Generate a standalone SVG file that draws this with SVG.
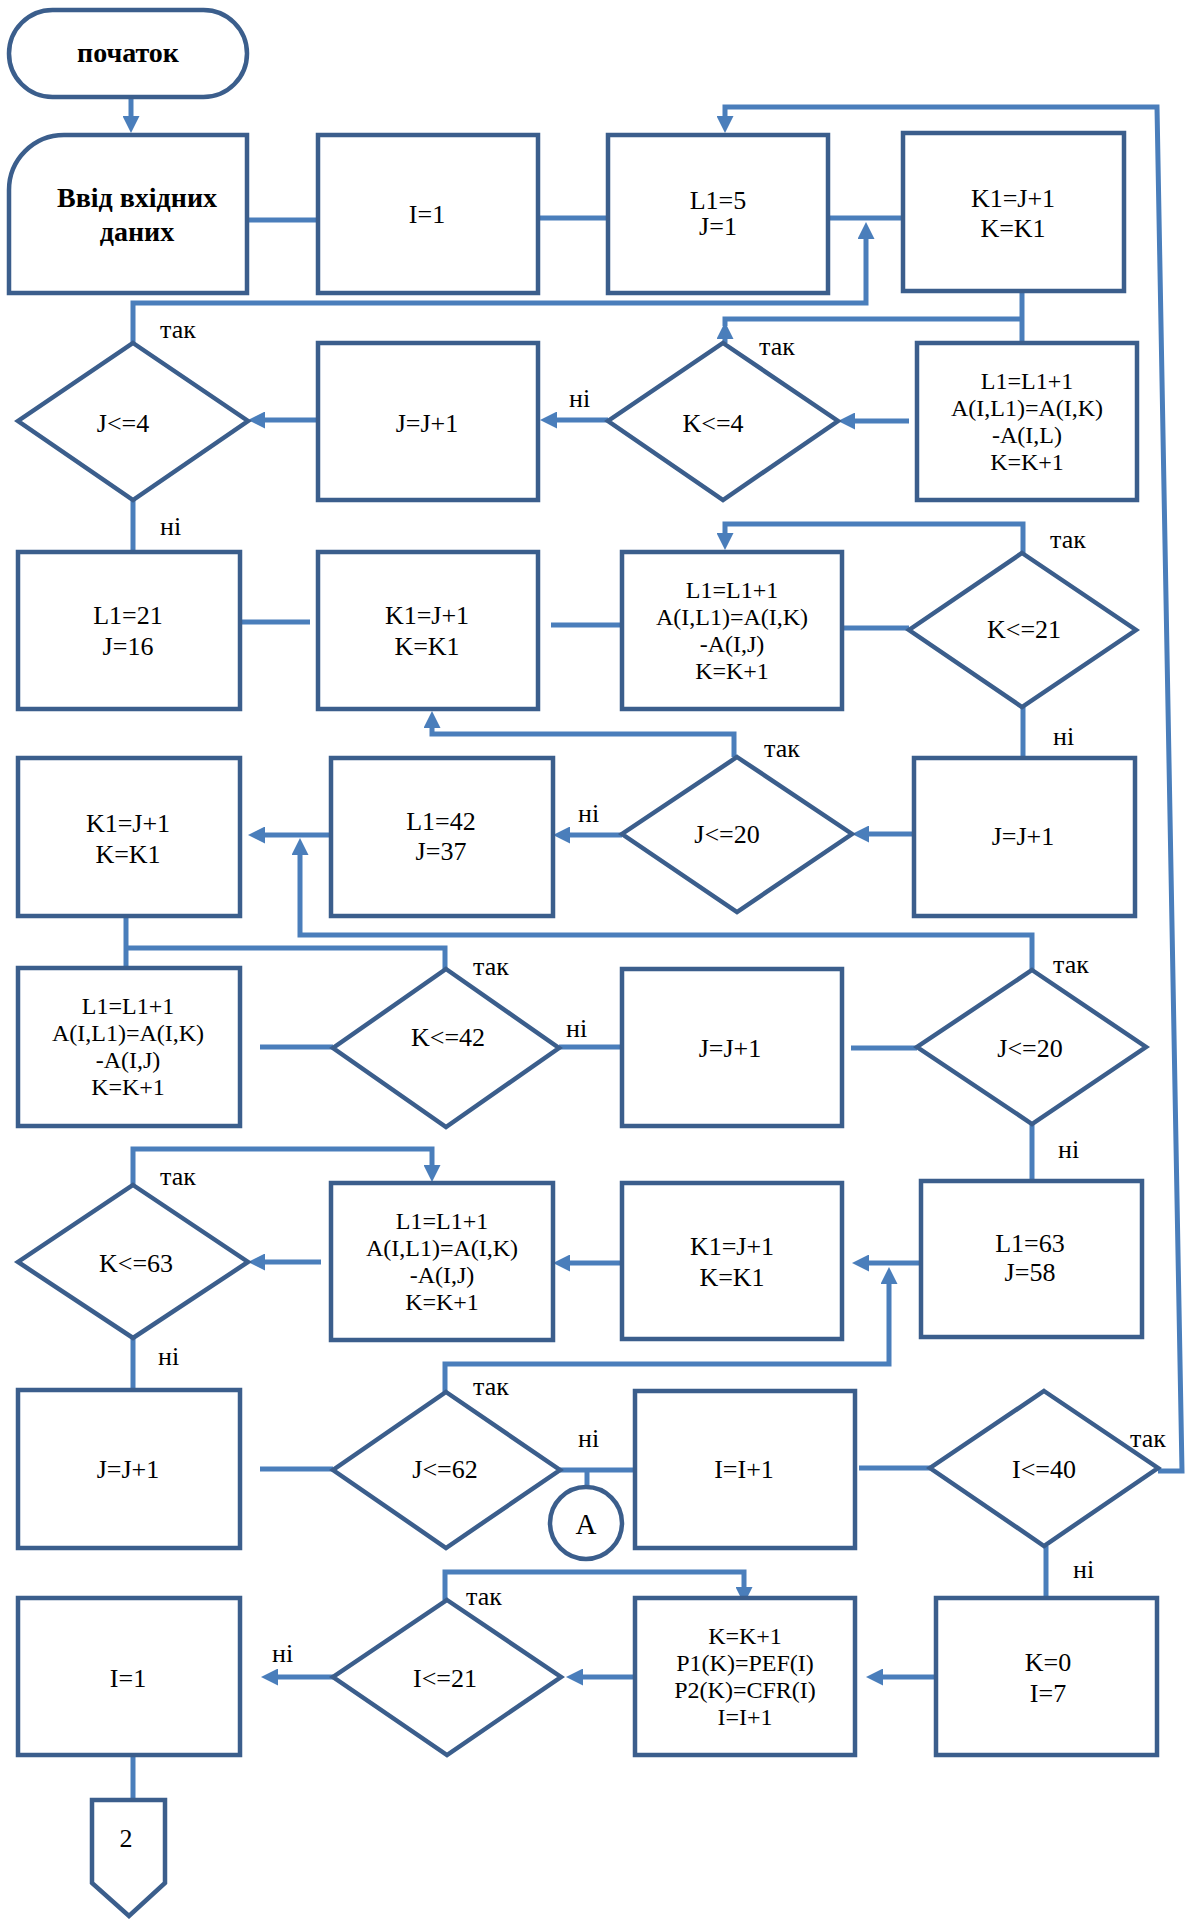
<svg xmlns="http://www.w3.org/2000/svg" width="1193" height="1919" viewBox="0 0 1193 1919">
<style>
.box{fill:#fff;stroke:#3B5E8C;stroke-width:4.5}
.cn{fill:none;stroke:#4A7EBB;stroke-width:5}
.t{font-family:"Liberation Serif","Times New Roman",serif;font-size:26px;fill:#000;text-anchor:middle}
.t4{font-family:"Liberation Serif","Times New Roman",serif;font-size:24px;fill:#000;text-anchor:middle}
.lb{font-family:"Liberation Serif","Times New Roman",serif;font-size:26px;fill:#000}
.b{font-family:"Liberation Serif","Times New Roman",serif;font-size:28px;font-weight:bold;fill:#000;text-anchor:middle}
</style>
<defs>
<marker id="ah" markerUnits="userSpaceOnUse" markerWidth="17" markerHeight="17" viewBox="0 0 17 17" refX="11" refY="8.5" orient="auto">
<path d="M0,0 L17,8.5 L0,17 z" fill="#4A7EBB"/>
</marker>
</defs>
<rect width="1193" height="1919" fill="#fff"/>

<g id="connectors">
<path class="cn" d="M131,97 V127" marker-end="url(#ah)"/>
<path class="cn" d="M247,220 H318"/>
<path class="cn" d="M538,218 H608"/>
<path class="cn" d="M828,218 H903"/>
<path class="cn" d="M133,343 V303 H866 V228" marker-end="url(#ah)"/>
<path class="cn" d="M1158,1471 H1182 L1157,107 H725 V127" marker-end="url(#ah)"/>
<path class="cn" d="M1022,291 V343"/>
<path class="cn" d="M725,343 V328" marker-end="url(#ah)"/>
<path class="cn" d="M725,326 V319 H1022"/>
<path class="cn" d="M909,421 H844" marker-end="url(#ah)"/>
<path class="cn" d="M608,420 H546" marker-end="url(#ah)"/>
<path class="cn" d="M318,420 H254" marker-end="url(#ah)"/>
<path class="cn" d="M133,500 V552"/>
<path class="cn" d="M240,622 H310"/>
<path class="cn" d="M551,625 H622"/>
<path class="cn" d="M842,628 H909"/>
<path class="cn" d="M1023,553 V524 H725 V544" marker-end="url(#ah)"/>
<path class="cn" d="M1023,707 V758"/>
<path class="cn" d="M914,834 H858" marker-end="url(#ah)"/>
<path class="cn" d="M734,757 V734 H432 V717" marker-end="url(#ah)"/>
<path class="cn" d="M622,835 H559" marker-end="url(#ah)"/>
<path class="cn" d="M331,835 H254" marker-end="url(#ah)"/>
<path class="cn" d="M1032,970 V935 H300 V844" marker-end="url(#ah)"/>
<path class="cn" d="M126,916 V968"/>
<path class="cn" d="M126,948 H445 V978"/>
<path class="cn" d="M260,1047 H333"/>
<path class="cn" d="M559,1047 H630"/>
<path class="cn" d="M851,1048 H917"/>
<path class="cn" d="M1032,1124 V1181"/>
<path class="cn" d="M921,1263 H858" marker-end="url(#ah)"/>
<path class="cn" d="M445,1392 V1364 H889 V1273" marker-end="url(#ah)"/>
<path class="cn" d="M622,1263 H559" marker-end="url(#ah)"/>
<path class="cn" d="M321,1262 H254" marker-end="url(#ah)"/>
<path class="cn" d="M133,1185 V1149 H432 V1176" marker-end="url(#ah)"/>
<path class="cn" d="M133,1338 V1390"/>
<path class="cn" d="M260,1469 H333"/>
<path class="cn" d="M560,1470 H635"/>
<path class="cn" d="M587,1470 V1487"/>
<path class="cn" d="M859,1468 H930"/>
<path class="cn" d="M1046,1546 V1598"/>
<path class="cn" d="M936,1677 H872" marker-end="url(#ah)"/>
<path class="cn" d="M635,1677 H572" marker-end="url(#ah)"/>
<path class="cn" d="M445,1600 V1572 H744 V1598" marker-end="url(#ah)"/>
<path class="cn" d="M333,1677 H267" marker-end="url(#ah)"/>
<path class="cn" d="M133,1755 V1800"/>
</g>

<g id="labels">
<text class="lb" x="160" y="338">так</text>
<text class="lb" x="569" y="407">ні</text>
<text class="lb" x="759" y="355">так</text>
<text class="lb" x="160" y="535">ні</text>
<text class="lb" x="1050" y="548">так</text>
<text class="lb" x="1053" y="745">ні</text>
<text class="lb" x="764" y="757">так</text>
<text class="lb" x="578" y="822">ні</text>
<text class="lb" x="1053" y="973">так</text>
<text class="lb" x="473" y="975">так</text>
<text class="lb" x="566" y="1037">ні</text>
<text class="lb" x="1058" y="1158">ні</text>
<text class="lb" x="160" y="1185">так</text>
<text class="lb" x="158" y="1365">ні</text>
<text class="lb" x="473" y="1395">так</text>
<text class="lb" x="578" y="1447">ні</text>
<text class="lb" x="1130" y="1447">так</text>
<text class="lb" x="1073" y="1578">ні</text>
<text class="lb" x="466" y="1605">так</text>
<text class="lb" x="272" y="1662">ні</text>
</g>

<g id="n-start"><rect class="box" x="9" y="10" width="238" height="87" rx="43.5"/><text class="b" x="128" y="62">початок</text></g>
<g id="n-input"><path class="box" d="M9,293 V190 A55,55 0 0 1 64,135 H247 V293 Z"/><text class="b" x="137" y="207">Ввід вхідних</text><text class="b" x="137" y="241">даних</text></g>
<g id="n-i1"><rect class="box" x="318" y="135" width="220" height="158"/><text class="t" x="427" y="223">I=1</text></g>
<g id="n-l15"><rect class="box" x="608" y="135" width="220" height="158"/><text class="t" x="718" y="209">L1=5</text><text class="t" x="718" y="235">J=1</text></g>
<g id="n-k1a"><rect class="box" x="903" y="133" width="221" height="158"/><text class="t" x="1013" y="207">K1=J+1</text><text class="t" x="1013" y="237">K=K1</text></g>
<g id="n-j4"><polygon class="box" points="133,343 248,421 133,500 18,421"/><text class="t" x="123" y="432">J&lt;=4</text></g>
<g id="n-jj1a"><rect class="box" x="318" y="343" width="220" height="157"/><text class="t" x="427" y="432">J=J+1</text></g>
<g id="n-k4"><polygon class="box" points="723,343 838,421 723,500 608,421"/><text class="t" x="713" y="432">K&lt;=4</text></g>
<g id="n-l1a"><rect class="box" x="917" y="343" width="220" height="157"/><text class="t4" x="1027" y="389">L1=L1+1</text><text class="t4" x="1027" y="416">A(I,L1)=A(I,K)</text><text class="t4" x="1027" y="443">-A(I,L)</text><text class="t4" x="1027" y="470">K=K+1</text></g>
<g id="n-l121"><rect class="box" x="18" y="552" width="222" height="157"/><text class="t" x="128" y="624">L1=21</text><text class="t" x="128" y="655">J=16</text></g>
<g id="n-k1b"><rect class="box" x="318" y="552" width="220" height="157"/><text class="t" x="427" y="624">K1=J+1</text><text class="t" x="427" y="655">K=K1</text></g>
<g id="n-l1b"><rect class="box" x="622" y="552" width="220" height="157"/><text class="t4" x="732" y="598">L1=L1+1</text><text class="t4" x="732" y="625">A(I,L1)=A(I,K)</text><text class="t4" x="732" y="652">-A(I,J)</text><text class="t4" x="732" y="679">K=K+1</text></g>
<g id="n-k21"><polygon class="box" points="1022,553 1136,630 1022,707 909,630"/><text class="t" x="1024" y="638">K&lt;=21</text></g>
<g id="n-k1c"><rect class="box" x="18" y="758" width="222" height="158"/><text class="t" x="128" y="832">K1=J+1</text><text class="t" x="128" y="863">K=K1</text></g>
<g id="n-l142"><rect class="box" x="331" y="758" width="222" height="158"/><text class="t" x="441" y="830">L1=42</text><text class="t" x="441" y="860">J=37</text></g>
<g id="n-j20a"><polygon class="box" points="737,757 852,834 737,912 622,834"/><text class="t" x="727" y="843">J&lt;=20</text></g>
<g id="n-jj1b"><rect class="box" x="914" y="758" width="221" height="158"/><text class="t" x="1023" y="845">J=J+1</text></g>
<g id="n-l1c"><rect class="box" x="18" y="968" width="222" height="158"/><text class="t4" x="128" y="1014">L1=L1+1</text><text class="t4" x="128" y="1041">A(I,L1)=A(I,K)</text><text class="t4" x="128" y="1068">-A(I,J)</text><text class="t4" x="128" y="1095">K=K+1</text></g>
<g id="n-k42"><polygon class="box" points="446,969 559,1048 446,1127 333,1048"/><text class="t" x="448" y="1046">K&lt;=42</text></g>
<g id="n-jj1c"><rect class="box" x="622" y="969" width="220" height="157"/><text class="t" x="730" y="1057">J=J+1</text></g>
<g id="n-j20b"><polygon class="box" points="1032,970 1146,1047 1032,1124 917,1047"/><text class="t" x="1030" y="1057">J&lt;=20</text></g>
<g id="n-k63"><polygon class="box" points="133,1185 248,1262 133,1338 18,1262"/><text class="t" x="136" y="1272">K&lt;=63</text></g>
<g id="n-l1d"><rect class="box" x="331" y="1183" width="222" height="157"/><text class="t4" x="442" y="1229">L1=L1+1</text><text class="t4" x="442" y="1256">A(I,L1)=A(I,K)</text><text class="t4" x="442" y="1283">-A(I,J)</text><text class="t4" x="442" y="1310">K=K+1</text></g>
<g id="n-k1d"><rect class="box" x="622" y="1183" width="220" height="156"/><text class="t" x="732" y="1255">K1=J+1</text><text class="t" x="732" y="1286">K=K1</text></g>
<g id="n-l163"><rect class="box" x="921" y="1181" width="221" height="156"/><text class="t" x="1030" y="1252">L1=63</text><text class="t" x="1030" y="1281">J=58</text></g>
<g id="n-jj1d"><rect class="box" x="18" y="1390" width="222" height="158"/><text class="t" x="128" y="1478">J=J+1</text></g>
<g id="n-j62"><polygon class="box" points="446,1392 560,1470 446,1548 333,1470"/><text class="t" x="445" y="1478">J&lt;=62</text></g>
<g id="n-a"><circle class="box" cx="586" cy="1523" r="36"/><text class="t" x="586" y="1534" style="font-size:29px">A</text></g>
<g id="n-ii1"><rect class="box" x="635" y="1391" width="220" height="157"/><text class="t" x="744" y="1478">I=I+1</text></g>
<g id="n-i40"><polygon class="box" points="1044,1391 1158,1468 1044,1546 930,1468"/><text class="t" x="1044" y="1478">I&lt;=40</text></g>
<g id="n-i1b"><rect class="box" x="18" y="1598" width="222" height="157"/><text class="t" x="128" y="1687">I=1</text></g>
<g id="n-i21"><polygon class="box" points="447,1600 561,1677 447,1755 333,1677"/><text class="t" x="445" y="1687">I&lt;=21</text></g>
<g id="n-kk1"><rect class="box" x="635" y="1598" width="220" height="157"/><text class="t4" x="745" y="1644">K=K+1</text><text class="t4" x="745" y="1671">P1(K)=PEF(I)</text><text class="t4" x="745" y="1698">P2(K)=CFR(I)</text><text class="t4" x="745" y="1725">I=I+1</text></g>
<g id="n-k0"><rect class="box" x="936" y="1598" width="221" height="157"/><text class="t" x="1048" y="1671">K=0</text><text class="t" x="1048" y="1702">I=7</text></g>
<g id="n-off"><path class="box" d="M92,1800 H165 V1883 L129,1916 L92,1883 Z"/><text class="t" x="126" y="1847">2</text></g>
</svg>
